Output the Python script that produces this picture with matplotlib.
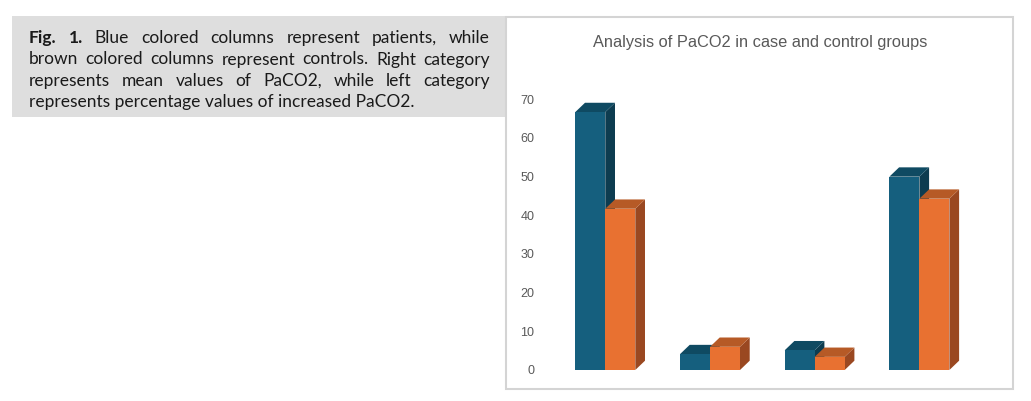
import matplotlib
matplotlib.use("Agg")
import matplotlib.pyplot as plt
from matplotlib.patches import Rectangle, Polygon

# data (4 categories, patients vs controls)
groups = [0, 1, 2, 3]
patients = [66.7, 4.1, 5.1, 50.0]
controls = [41.7, 6.0, 3.4, 44.3]
yticks = [0, 10, 20, 30, 40, 50, 60, 70]
title = "Analysis of PaCO2 in case and control groups"

caption_lines = [
    [("Fig.", "bold"), ("1.", "bold"), ("Blue", "normal"), ("colored", "normal"),
     ("columns", "normal"), ("represent", "normal"), ("patients,", "normal"), ("while", "normal")],
    [(w, "normal") for w in "brown colored columns represent controls. Right category".split()],
    [(w, "normal") for w in "represents mean values of PaCO2, while left category".split()],
]
caption_last = "represents percentage values of increased PaCO2."

W, H = 1031, 401
fig = plt.figure(figsize=(W / 100, H / 100), dpi=100)
fig.patch.set_facecolor("white")

def fx(px):
    return px / W

def fy(py):
    return 1 - py / H

# caption box
fig.patches.append(Rectangle((fx(12), fy(117)), fx(505) - fx(12), fy(16) - fy(117),
                             transform=fig.transFigure, facecolor="#dedede",
                             edgecolor="none", zorder=-2))
# chart panel border
fig.patches.append(Rectangle((fx(506), fy(389)), fx(1013) - fx(506), fy(17) - fy(389),
                             transform=fig.transFigure, facecolor="white",
                             edgecolor="#d4d4d4", lw=1.5, zorder=-2))

renderer = fig.canvas.get_renderer()
cap_font = ["Lato", "DejaVu Sans"]

# fit caption size so the last line is ~386 px wide
t = fig.text(0, 0, caption_last, fontsize=10, family=cap_font)
w10 = t.get_window_extent(renderer).width
t.remove()
cap_size = 10 * 386 / w10

left, right = 29, 490
baselines = [43, 64.5, 86, 107]
for line, yb in zip(caption_lines, baselines):
    texts = [fig.text(0, fy(yb), wd, fontsize=cap_size, family=cap_font,
                      fontweight=wt, color="#1a1a1a", va="baseline")
             for wd, wt in line]
    widths = [tt.get_window_extent(renderer).width for tt in texts]
    gap = (right - left - sum(widths)) / (len(texts) - 1)
    x = left
    for tt, wdt in zip(texts, widths):
        tt.set_x(fx(x))
        x += wdt + gap
fig.text(fx(left), fy(baselines[3]), caption_last, fontsize=cap_size, family=cap_font,
         color="#1a1a1a", va="baseline")

# chart title, fitted to ~336 px
narrow = ["Liberation Sans", "DejaVu Sans"]
t = fig.text(0, 0, title, fontsize=10, family=narrow)
tw = t.get_window_extent(renderer).width
t.remove()
fig.text(fx(760), fy(42), title, fontsize=10 * 336 / tw, family=narrow,
         color="#595959", ha="center", va="center")

# axes: x group centres 104.7 px apart, y 0..70 between px 370 and 99.3
ax_l, ax_r, ax_b, ax_t = 540, 990, 370, 99.3
ax = fig.add_axes([fx(ax_l), fy(ax_b), fx(ax_r) - fx(ax_l), fy(ax_t) - fy(ax_b)])
ax.set_facecolor("none")
pxu = 104.7
ax.set_xlim(-(605.3 - ax_l) / pxu, (ax_r - 605.3) / pxu)
ax.set_ylim(0, 70)
pyu = (ax_b - ax_t) / 70

bw = 30 / pxu
dx = 9.7 / pxu
dy = 9.3 / pyu

def bar3d(x0, h, front, top, side):
    ax.add_patch(Polygon([(x0 + bw, 0), (x0 + bw + dx, dy), (x0 + bw + dx, h + dy), (x0 + bw, h)],
                         closed=True, facecolor=side, edgecolor="none", clip_on=False))
    ax.add_patch(Polygon([(x0, h), (x0 + bw, h), (x0 + bw + dx, h + dy), (x0 + dx, h + dy)],
                         closed=True, facecolor=top, edgecolor="none", clip_on=False))
    ax.add_patch(Rectangle((x0, 0), bw, h, facecolor=front, edgecolor="none", clip_on=False))

for g, p, c in zip(groups, patients, controls):
    bar3d(g - bw, p, "#155f7e", "#0f4a62", "#0d3c50")
    bar3d(g, c, "#e87131", "#b65a26", "#9a4821")

ax.set_yticks(yticks)
ax.set_xticks([])
ax.tick_params(axis="y", length=0, pad=4, labelcolor="#595959")
for lab in ax.get_yticklabels():
    lab.set_family(narrow)
    lab.set_fontsize(9)
for s in ax.spines.values():
    s.set_visible(False)

fig.savefig("out.png", dpi=100)
